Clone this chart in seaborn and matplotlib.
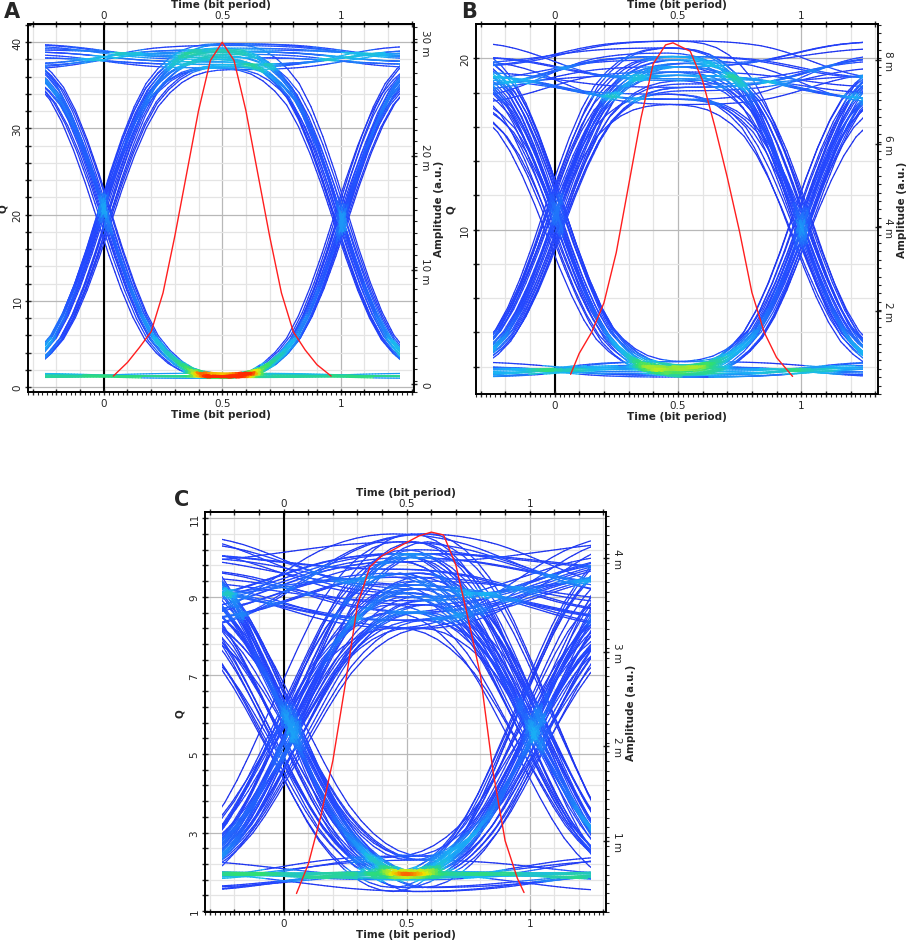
import numpy as np
import matplotlib
matplotlib.use("Agg")
import matplotlib.pyplot as plt
import seaborn as sns
from matplotlib.collections import LineCollection
from matplotlib.colors import LinearSegmentedColormap
from matplotlib.patches import Rectangle
from matplotlib.ticker import FixedLocator, FuncFormatter

# bit streams folded into the eye (one trace per bit, with its neighbours)
BITS_A = "0110100111001011000111010110010011101000101101110001011010011101001011"
BITS_B = ("01101001110010110001110101100100111010001011011100010110100111"
          "010010111001101000111010110010")
BITS_C = ("0110100111001011000111010110010011101000101101110001011010011101"
          "0010111001101000111010110010111001011011100010110100111010010110"
          "0011101101000110")

# per-bit signal levels (Q units), cycled along the bit stream
HIGH_A = [38.2, 37.4, 39.1, 38.6, 37.0, 39.6, 38.0, 36.8, 38.9, 37.7, 39.3, 38.4, 37.2, 38.8, 39.8]
LOW_A = [1.2, 1.4, 1.1, 1.3, 1.5, 1.2, 1.3, 1.0, 1.4, 1.2, 1.6]
HIGH_B = [19.2, 18.3, 20.1, 18.8, 17.9, 19.7, 20.6, 18.5, 19.0, 17.6, 20.3, 18.1, 19.5, 21.0, 18.7, 19.9, 17.3]
LOW_B = [1.9, 1.7, 2.1, 1.8, 2.0, 1.5, 2.3, 1.8, 2.0, 1.9, 1.6, 2.0, 1.4]
HIGH_C = [9.4, 8.9, 10.1, 9.7, 8.6, 9.9, 10.4, 9.2, 8.4, 9.6, 10.2, 9.0, 9.5, 8.8, 10.0, 9.3, 8.2, 10.6, 9.1]
LOW_C = [1.95, 1.85, 2.0, 1.9, 2.05, 1.6, 1.95, 1.85, 2.3, 1.9, 2.0, 1.8, 2.4, 1.95, 1.5, 2.0]

# timing jitter of each trace (bit periods)
SHIFT_A = [0.0, 0.021, -0.017, 0.009, -0.028, 0.015, -0.006, 0.03, -0.022, 0.003,
           0.012, -0.012, 0.025, -0.003, 0.018, -0.025, 0.006]
SHIFT_B = [0.0, 0.03, -0.025, 0.013, -0.04, 0.038, -0.008, 0.022, -0.031, 0.006,
           0.034, -0.016, 0.017, -0.002, 0.027, -0.036, 0.009, -0.02, 0.042]
SHIFT_C = [0.01, 0.07, -0.04, 0.04, -0.06, 0.085, 0.0, 0.025, -0.025, 0.065, 0.005, -0.045,
           0.05, 0.02, -0.015, 0.075, -0.055, 0.035, -0.005, 0.055, -0.03, 0.015, 0.045]

# rising edge shape from one bit centre to the next, in steps of 0.05 bit
EDGE_SHARP = [0.0, 0.002, 0.008, 0.02, 0.042, 0.075, 0.12, 0.19, 0.28, 0.385, 0.5,
              0.615, 0.72, 0.81, 0.88, 0.925, 0.958, 0.98, 0.992, 0.998, 1.0]
EDGE_SOFT = [0.0, 0.005, 0.02, 0.045, 0.08, 0.125, 0.18, 0.25, 0.33, 0.415, 0.5,
             0.585, 0.67, 0.75, 0.82, 0.875, 0.92, 0.955, 0.98, 0.995, 1.0]

# red amplitude curves (milli a.u.)
RED_T_A = [0.04, 0.1, 0.15, 0.2, 0.25, 0.3, 0.35, 0.4, 0.45, 0.5, 0.55, 0.6, 0.65, 0.7, 0.75, 0.8, 0.85, 0.9, 0.96]
RED_V_A = [0.7, 1.9, 3.2, 4.6, 8.0, 13.0, 18.5, 24.0, 28.4, 30.0, 28.4, 24.0, 18.5, 13.0, 8.0, 4.6, 3.0, 1.7, 0.7]
RED_T_B = [0.065, 0.1, 0.15, 0.2, 0.25, 0.3, 0.35, 0.4, 0.45, 0.48, 0.55, 0.6, 0.65, 0.7, 0.75, 0.8, 0.85, 0.9, 0.965]
RED_V_B = [0.5, 1.0, 1.5, 2.2, 3.4, 5.0, 6.6, 7.9, 8.35, 8.4, 8.2, 7.5, 6.4, 5.2, 3.9, 2.45, 1.5, 0.9, 0.45]
RED_T_C = [0.052, 0.1, 0.15, 0.2, 0.25, 0.3, 0.35, 0.4, 0.45, 0.5, 0.55, 0.6, 0.65, 0.7, 0.75, 0.8, 0.85, 0.9, 0.95, 0.977]
RED_V_C = [0.44, 0.75, 1.25, 1.85, 2.65, 3.5, 3.9, 4.02, 4.09, 4.16, 4.23, 4.27, 4.24, 3.92, 3.35, 2.75, 1.75, 1.0, 0.6, 0.45]

EYE_CMAP = LinearSegmentedColormap.from_list(
    "eye", [(0.0, "#1c2ce8"), (0.22, "#2448ff"), (0.42, "#18b8f4"),
            (0.62, "#2fe070"), (0.82, "#f2f000"), (1.0, "#ff2a00")])
NBIN = 130
SUB = 24


def build_traces(bits, highs, lows, shifts, edge):
    bits = [int(b) for b in bits]
    levels = [highs[i % len(highs)] if b else lows[i % len(lows)] for i, b in enumerate(bits)]
    edge = np.asarray(edge)
    t = np.round(np.arange(-0.35, 1.3501, 0.05), 3)
    first = t <= 0.5
    i1 = np.round((t[first] + 0.5) / 0.05).astype(int)
    i2 = np.round((t[~first] - 0.5) / 0.05).astype(int)
    xs, ys = [], []
    for i in range(1, len(bits) - 1):
        v0, v1, v2 = levels[i - 1], levels[i], levels[i + 1]
        y = np.empty(len(t))
        y[first] = v0 + (v1 - v0) * edge[i1]
        y[~first] = v1 + (v2 - v1) * edge[i2]
        xs.append(t + shifts[i % len(shifts)])
        ys.append(y)
    return np.array(xs), np.array(ys)


def cell_index(x, y, xlim, ylim):
    ix = ((x - xlim[0]) / (xlim[1] - xlim[0]) * NBIN).astype(int).clip(0, NBIN - 1)
    iy = ((y - ylim[0]) / (ylim[1] - ylim[0]) * NBIN).astype(int).clip(0, NBIN - 1)
    return ix * NBIN + iy


def hit_density(xs, ys, xlim, ylim):
    # persistence-style grading: samples evenly spaced in time, counted per cell
    step = np.linspace(0, 1, SUB, endpoint=False)[None, :]
    fx = (xs[:, :-1, None] + (xs[:, 1:, None] - xs[:, :-1, None]) * step).ravel()
    fy = (ys[:, :-1, None] + (ys[:, 1:, None] - ys[:, :-1, None]) * step).ravel()
    counts = np.bincount(cell_index(fx, fy, xlim, ylim), minlength=NBIN * NBIN).astype(float)
    grid = np.pad(counts.reshape(NBIN, NBIN), 1, mode="edge")
    smooth = sum(grid[1 + dx:NBIN + 1 + dx, 1 + dy:NBIN + 1 + dy] *
                 (0.25 if dx == dy == 0 else (0.125 if dx * dy == 0 else 0.0625))
                 for dx in (-1, 0, 1) for dy in (-1, 0, 1))
    per_cell = (xlim[1] - xlim[0]) / NBIN / (0.05 / SUB)
    return smooth.ravel() / (len(xs) * per_cell)


def label_fmt(v, _):
    k = int(round(v * 10))
    if abs(v * 10 - k) < 1e-6 and k in (0, 5, 10):
        return {0: "0", 5: "0.5", 10: "1"}[k]
    return ""


def draw_panel(fig, p):
    xlim = (-0.32, 1.31)
    ax = fig.add_axes(p["rect"])
    ax.set_xlim(*xlim)
    ax.set_ylim(*p["ylim"])

    # light grid + darker major lines
    xg = np.round(np.arange(-0.3, 1.31, 0.1), 2)
    yg = np.arange(p["ygrid0"], p["ylim"][1], p["ystep"])
    for x in xg:
        major = abs(x * 2 - round(x * 2)) < 1e-6
        ax.axvline(x, color="#b8b8b8" if major else "#e4e4e4", lw=0.9, zorder=0)
    for y in yg:
        major = any(abs(y - m) < 1e-6 for m in p["yticks"])
        ax.axhline(y, color="#b8b8b8" if major else "#e4e4e4", lw=0.9, zorder=0)
    ax.axvline(0, color="black", lw=1.5, zorder=0.5)

    # eye traces, coloured by hit density, shown over one 1.5-bit window
    xs, ys = build_traces(p["bits"], p["high"], p["low"], p["shift"], p["edge"])
    dens = hit_density(xs, ys, xlim, p["ylim"])
    # each straight segment is split in four pieces only so its colour can vary
    frac = np.linspace(0, 1, 5)
    x0, x1 = xs[:, :-1, None], xs[:, 1:, None]
    y0, y1 = ys[:, :-1, None], ys[:, 1:, None]
    px = (x0 + (x1 - x0) * frac).reshape(-1, 5)
    py = (y0 + (y1 - y0) * frac).reshape(-1, 5)
    segs = np.stack([np.stack([px[:, :-1], py[:, :-1]], -1),
                     np.stack([px[:, 1:], py[:, 1:]], -1)], axis=2).reshape(-1, 2, 2)
    mid = segs.mean(axis=1)
    seg_f = dens[cell_index(mid[:, 0], mid[:, 1], xlim, p["ylim"])]
    order = np.argsort(seg_f, kind="stable")
    shade = np.clip(seg_f[order] / p["fmax"], 0, 1) ** 0.75
    lc = LineCollection(segs[order], colors=EYE_CMAP(shade),
                        linewidths=0.9, capstyle="round", zorder=2)
    ax.add_collection(lc)
    window = Rectangle((-0.25, p["ylim"][0]), 1.5, p["ylim"][1] - p["ylim"][0],
                       transform=ax.transData, facecolor="none", edgecolor="none")
    lc.set_clip_path(window)

    # ticks
    ax.xaxis.set_major_locator(FixedLocator(xg))
    ax.xaxis.set_minor_locator(FixedLocator(np.arange(-0.32, 1.31, 0.02)))
    ax.xaxis.set_major_formatter(FuncFormatter(label_fmt))
    ax.yaxis.set_major_locator(FixedLocator(yg))
    ax.yaxis.set_major_formatter(FuncFormatter(
        lambda v, _: "%g" % v if any(abs(v - m) < 1e-6 for m in p["yticks"]) else ""))
    ax.tick_params(axis="both", which="major", direction="inout", length=4, width=1,
                   labelsize=7.5, pad=2, bottom=True, left=True)
    ax.tick_params(axis="x", which="minor", direction="out", length=2, width=0.8, bottom=True)
    for lab in ax.get_yticklabels():
        lab.set_rotation(90)
        lab.set_va("center")
    ax.set_xlabel("Time (bit period)", fontsize=7.5, fontweight="bold", labelpad=1)
    ax.set_ylabel("Q", fontsize=7.5, fontweight="bold", labelpad=3)

    top = ax.secondary_xaxis("top")
    top.xaxis.set_major_locator(FixedLocator(xg))
    top.xaxis.set_major_formatter(FuncFormatter(label_fmt))
    top.tick_params(direction="inout", length=4, width=1, labelsize=7.5, pad=1)
    top.set_xlabel("Time (bit period)", fontsize=7.5, fontweight="bold", labelpad=2)

    # amplitude curve on the right axis
    ax2 = ax.twinx()
    sns.lineplot(x=p["red_t"], y=p["red_v"], ax=ax2, color="#ff1e1e", linewidth=1.0)
    ax2.set_ylim(*p["alim"])
    ax2.yaxis.set_major_locator(FixedLocator(p["aticks"]))
    ax2.yaxis.set_minor_locator(FixedLocator(np.arange(p["alim"][0], p["alim"][1], p["aminor"])))
    ax2.yaxis.set_major_formatter(FuncFormatter(lambda v, _: "0" if v == 0 else "%g m" % v))
    ax2.tick_params(axis="y", which="major", direction="inout", length=4, width=1,
                    labelsize=7.5, pad=2, right=True)
    ax2.tick_params(axis="y", which="minor", direction="out", length=2, width=0.8, right=True)
    for lab in ax2.get_yticklabels():
        lab.set_rotation(-90)
        lab.set_va("center")
    ax2.set_ylabel("Amplitude (a.u.)", fontsize=7.5, fontweight="bold", rotation=90, labelpad=3)
    ax2.grid(False)
    for a in (ax, ax2):
        for s in a.spines.values():
            s.set_color("black")
            s.set_linewidth(1.2)
    fig.text(p["tag_xy"][0], p["tag_xy"][1], p["label"], fontsize=15, fontweight="bold", va="top")


sns.set_theme(style="white")
plt.rcParams["font.family"] = ["DejaVu Sans"]

panels = [
    dict(label="A", tag_xy=(0.004, 0.998), rect=[0.0307, 0.5841, 0.4228, 0.3894],
         bits=BITS_A, high=HIGH_A, low=LOW_A, shift=SHIFT_A, edge=EDGE_SHARP,
         ylim=(-0.58, 42.09), ygrid0=0, ystep=2, yticks=[0, 10, 20, 30, 40], fmax=0.17,
         red_t=RED_T_A, red_v=RED_V_A, alim=(-0.7, 31.6), aticks=[0, 10, 20, 30], aminor=1),
    dict(label="B", tag_xy=(0.505, 0.998), rect=[0.521, 0.582, 0.4403, 0.3916],
         bits=BITS_B, high=HIGH_B, low=LOW_B, shift=SHIFT_B, edge=EDGE_SHARP,
         ylim=(0.41, 22.0), ygrid0=2, ystep=2, yticks=[10, 20], fmax=0.15,
         red_t=RED_T_B, red_v=RED_V_B, alim=(0.03, 8.85), aticks=[0, 2, 4, 6, 8], aminor=0.2),
    dict(label="C", tag_xy=(0.191, 0.482), rect=[0.2245, 0.0335, 0.4392, 0.4233],
         bits=BITS_C, high=HIGH_C, low=LOW_C, shift=SHIFT_C, edge=EDGE_SOFT,
         ylim=(0.97, 11.15), ygrid0=1, ystep=0.4, yticks=[1, 3, 5, 7, 9, 11], fmax=0.12,
         red_t=RED_T_C, red_v=RED_V_C, alim=(0.24, 4.48), aticks=[1, 2, 3, 4], aminor=0.1),
]

fig = plt.figure(figsize=(9.13, 9.45), dpi=100)
for p in panels:
    draw_panel(fig, p)
fig.savefig("out.png", dpi=100)
